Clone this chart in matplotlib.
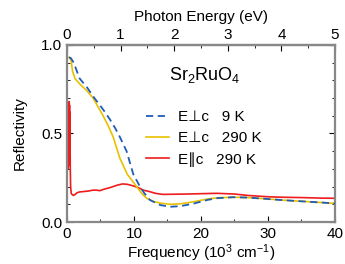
import matplotlib
matplotlib.use("Agg")
import matplotlib.pyplot as plt
from matplotlib.ticker import MultipleLocator

plt.rcParams['font.family'] = ['Liberation Sans', 'DejaVu Sans']
plt.rcParams['mathtext.fontset'] = 'custom'
plt.rcParams['mathtext.rm'] = 'Liberation Sans'
plt.rcParams['mathtext.it'] = 'Liberation Sans'

# Data (frequency in 10^3 cm^-1, reflectivity)
f_perp_9K = [0.3, 0.6, 1.0, 1.9, 3.0, 3.9, 4.9, 5.5, 6.4, 7.2, 7.9, 8.9, 9.9, 10.9, 11.6,
             12.4, 13.9, 15.4, 17, 19, 21, 22.5, 24.8, 27, 30, 32, 35, 38, 40]
R_perp_9K = [0.93, 0.925, 0.90, 0.81, 0.76, 0.71, 0.66, 0.63, 0.58, 0.53, 0.48, 0.40, 0.27,
             0.20, 0.16, 0.124, 0.096, 0.086, 0.09, 0.105, 0.125, 0.135, 0.14, 0.138, 0.13,
             0.124, 0.117, 0.11, 0.105]

f_perp_290K = [0.3, 0.6, 0.85, 1.2, 1.9, 3.0, 3.9, 5.4, 6.2, 6.9, 7.9, 9.0, 10.4, 11.2, 11.9,
               13.0, 13.9, 15.4, 17, 19, 21, 22.5, 24.8, 27, 30, 32, 35, 38, 40]
R_perp_290K = [0.93, 0.915, 0.85, 0.81, 0.78, 0.74, 0.70, 0.60, 0.54, 0.48, 0.36, 0.27, 0.20,
               0.16, 0.134, 0.115, 0.107, 0.10, 0.103, 0.115, 0.13, 0.137, 0.14, 0.138, 0.13,
               0.124, 0.117, 0.11, 0.105]

f_par_290K = [0.03, 0.06, 0.08, 0.1, 0.12, 0.14, 0.16, 0.18, 0.2, 0.22, 0.24, 0.26, 0.28,
              0.3, 0.32, 0.34, 0.36, 0.38, 0.4, 0.42, 0.44, 0.46, 0.5, 0.55, 0.65, 0.8, 0.95,
              1.2, 1.5, 1.9, 2.5, 3.2, 3.9, 4.4, 4.9, 5.5, 6.5, 7.5, 8.3, 9.0, 9.8, 10.6, 11.4,
              12.4, 13.2, 13.9, 14.3, 16, 18, 20, 22.4, 25, 27, 29.8, 32, 35, 38, 40]
R_par_290K = [0.35, 0.6, 0.32, 0.62, 0.3, 0.58, 0.33, 0.6, 0.31, 0.62, 0.34, 0.6, 0.32,
              0.64, 0.36, 0.68, 0.4, 0.66, 0.38, 0.62, 0.35, 0.5, 0.3, 0.2, 0.16, 0.155, 0.15,
              0.155, 0.165, 0.17, 0.172, 0.175, 0.18, 0.18, 0.177, 0.185, 0.195, 0.208, 0.215,
              0.213, 0.205, 0.195, 0.18, 0.171, 0.162, 0.158, 0.156, 0.157, 0.158, 0.16, 0.162,
              0.158, 0.15, 0.143, 0.14, 0.138, 0.135, 0.134]

labels = ["E\u22a5c   9 K", "E\u22a5c   290 K", "E\u2225c   290 K"]
top_ticks_eV = [0, 1, 2, 3, 4, 5]
KCM_PER_EV = 8.0

fig = plt.figure(figsize=(3.45, 2.64), dpi=100)
ax = fig.add_axes([0.194, 0.159, 0.777, 0.671])

ax.plot(f_par_290K, R_par_290K, color='#ee1c1c', lw=1.2, label=labels[2], zorder=2)
ax.plot(f_perp_290K, R_perp_290K, color='#e8c000', lw=1.2, label=labels[1], zorder=3)
ax.plot(f_perp_9K, R_perp_9K, color='#1f5cb8', lw=1.3, ls=(0, (4, 2.5)), label=labels[0], zorder=4)

ax.set_xlim(0, 40)
ax.set_ylim(0, 1.0)
ax.xaxis.set_major_locator(MultipleLocator(10))
ax.xaxis.set_minor_locator(MultipleLocator(5))
ax.yaxis.set_major_locator(MultipleLocator(0.5))
ax.yaxis.set_minor_locator(MultipleLocator(0.1))
ax.yaxis.set_major_formatter(plt.FormatStrFormatter('%.1f'))
ax.tick_params(which='both', direction='in', right=True, labelsize=11, color='black')
ax.tick_params(which='major', length=4, width=0.8)
ax.tick_params(which='minor', length=2.5, width=0.6)
ax.tick_params(axis='x', which='both', top=False)
for s in ax.spines.values():
    s.set_color('#888888')
    s.set_linewidth(1.6)

ax.set_xlabel("Frequency (10$^3$ cm$^{\u22121}$)", fontsize=11, labelpad=1)
ax.set_ylabel("Reflectivity", fontsize=11, labelpad=10)

sec = ax.secondary_xaxis('top', functions=(lambda x: x / KCM_PER_EV, lambda e: e * KCM_PER_EV))
sec.set_xticks(top_ticks_eV)
sec.xaxis.set_minor_locator(MultipleLocator(0.5))
sec.tick_params(which='both', direction='in', labelsize=11, pad=2)
sec.tick_params(which='major', length=4, width=0.8)
sec.tick_params(which='minor', length=2.5, width=0.6)
sec.spines['top'].set_color('#888888')
sec.spines['top'].set_linewidth(1.6)
sec.set_xlabel("Photon Energy (eV)", fontsize=11, labelpad=5)

ax.text(0.515, 0.83, "Sr$_2$RuO$_4$", transform=ax.transAxes, ha='center', va='center', fontsize=13)

h, l = ax.get_legend_handles_labels()
order = [2, 1, 0]
ax.legend([h[i] for i in order], [l[i] for i in order], loc='upper left',
          bbox_to_anchor=(0.265, 0.675), frameon=False, fontsize=11,
          handlelength=1.5, handletextpad=0.6, labelspacing=0.45, borderpad=0)

fig.savefig("out.png", dpi=100)
